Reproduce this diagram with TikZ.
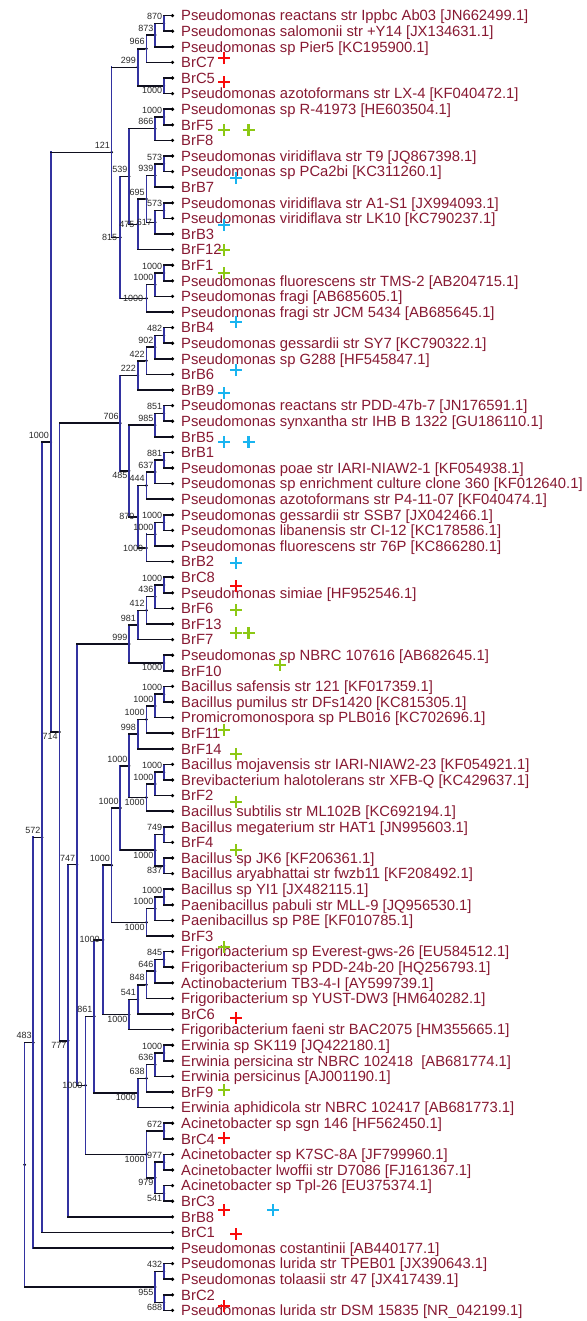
\documentclass[tikz,border=0pt]{standalone}
\usepackage{fontspec}
\setmainfont{Liberation Sans}
\definecolor{taxred}{RGB}{135,25,50}
\definecolor{vcol}{RGB}{50,50,160}
\definecolor{hcol}{RGB}{15,15,30}
\definecolor{bsgrey}{RGB}{40,40,40}
\definecolor{markred}{RGB}{250,10,10}
\definecolor{markgreen}{RGB}{140,200,20}
\definecolor{markcyan}{RGB}{25,180,240}
\tikzset{bplus/.pic={\draw[line width=2.8pt] (-6pt,0pt) -- (6pt,0pt) (0pt,-6pt) -- (0pt,6pt);}}

\begin{document}
\begin{tikzpicture}[x=1pt, y=-15.6pt,
  inode/.style={circle, fill=black, inner sep=0pt, minimum size=3pt},
  taxon/.style={anchor=west, inner xsep=8.5pt, inner ysep=0pt, text height=10.6pt, text depth=0pt, text=taxred, font=\fontsize{14.8}{15}\selectfont},
  bs/.style={inner sep=0pt, text=bsgrey, font=\fontsize{9}{9}\selectfont},
  bsa/.style={bs, anchor=south east, xshift=-1.5pt, yshift=3.5pt},
  bsm/.style={bs, anchor=east, xshift=-3pt},
  bsb/.style={bs, anchor=north east, xshift=-1.5pt, yshift=-1.5pt},
  vl/.style={draw=vcol, line width=1.7pt, line cap=rect},
  hl/.style={draw=hcol, line width=1.5pt, line cap=rect}]
  \useasboundingbox (0,0) rectangle (586,84.679);

  % taxa
  \node[taxon] (s1) at (172.5,1) {Pseudomonas reactans str Ippbc Ab03 [JN662499.1]};
  \node[taxon] (s2) at (172.5,2) {Pseudomonas salomonii str +Y14 [JX134631.1]};
  \node[taxon] (s3) at (172.5,3) {Pseudomonas sp Pier5 [KC195900.1]};
  \node[taxon] (s4) at (172.5,4) {BrC7};
  \node[taxon] (s5) at (172.5,5) {BrC5};
  \node[taxon] (s6) at (172.5,6) {Pseudomonas azotoformans str LX-4 [KF040472.1]};
  \node[taxon] (s7) at (172.5,7) {Pseudomonas sp R-41973 [HE603504.1]};
  \node[taxon] (s8) at (172.5,8) {BrF5};
  \node[taxon] (s9) at (172.5,9) {BrF8};
  \node[taxon] (s10) at (172.5,10) {Pseudomonas viridiflava str T9 [JQ867398.1]};
  \node[taxon] (s11) at (172.5,11) {Pseudomonas sp PCa2bi [KC311260.1]};
  \node[taxon] (s12) at (172.5,12) {BrB7};
  \node[taxon] (s13) at (172.5,13) {Pseudomonas viridiflava str A1-S1 [JX994093.1]};
  \node[taxon] (s14) at (172.5,14) {Pseudomonas viridiflava str LK10 [KC790237.1]};
  \node[taxon] (s15) at (172.5,15) {BrB3};
  \node[taxon] (s16) at (172.5,16) {BrF12};
  \node[taxon] (s17) at (172.5,17) {BrF1};
  \node[taxon] (s18) at (172.5,18) {Pseudomonas fluorescens str TMS-2 [AB204715.1]};
  \node[taxon] (s19) at (172.5,19) {Pseudomonas fragi [AB685605.1]};
  \node[taxon] (s20) at (172.5,20) {Pseudomonas fragi str JCM 5434 [AB685645.1]};
  \node[taxon] (s21) at (172.5,21) {BrB4};
  \node[taxon] (s22) at (172.5,22) {Pseudomonas gessardii str SY7 [KC790322.1]};
  \node[taxon] (s23) at (172.5,23) {Pseudomonas sp G288 [HF545847.1]};
  \node[taxon] (s24) at (172.5,24) {BrB6};
  \node[taxon] (s25) at (172.5,25) {BrB9};
  \node[taxon] (s26) at (172.5,26) {Pseudomonas reactans str PDD-47b-7 [JN176591.1]};
  \node[taxon] (s27) at (172.5,27) {Pseudomonas synxantha str IHB B 1322 [GU186110.1]};
  \node[taxon] (s28) at (172.5,28) {BrB5};
  \node[taxon] (s29) at (172.5,29) {BrB1};
  \node[taxon] (s30) at (172.5,30) {Pseudomonas poae str IARI-NIAW2-1 [KF054938.1]};
  \node[taxon] (s31) at (172.5,31) {Pseudomonas sp enrichment culture clone 360 [KF012640.1]};
  \node[taxon] (s32) at (172.5,32) {Pseudomonas azotoformans str P4-11-07 [KF040474.1]};
  \node[taxon] (s33) at (172.5,33) {Pseudomonas gessardii str SSB7 [JX042466.1]};
  \node[taxon] (s34) at (172.5,34) {Pseudomonas libanensis str CI-12 [KC178586.1]};
  \node[taxon] (s35) at (172.5,35) {Pseudomonas fluorescens str 76P [KC866280.1]};
  \node[taxon] (s36) at (172.5,36) {BrB2};
  \node[taxon] (s37) at (172.5,37) {BrC8};
  \node[taxon] (s38) at (172.5,38) {Pseudomonas simiae [HF952546.1]};
  \node[taxon] (s39) at (172.5,39) {BrF6};
  \node[taxon] (s40) at (172.5,40) {BrF13};
  \node[taxon] (s41) at (172.5,41) {BrF7};
  \node[taxon] (s42) at (172.5,42) {Pseudomonas sp NBRC 107616 [AB682645.1]};
  \node[taxon] (s43) at (172.5,43) {BrF10};
  \node[taxon] (s44) at (172.5,44) {Bacillus safensis str 121 [KF017359.1]};
  \node[taxon] (s45) at (172.5,45) {Bacillus pumilus str DFs1420 [KC815305.1]};
  \node[taxon] (s46) at (172.5,46) {Promicromonospora sp PLB016 [KC702696.1]};
  \node[taxon] (s47) at (172.5,47) {BrF11};
  \node[taxon] (s48) at (172.5,48) {BrF14};
  \node[taxon] (s49) at (172.5,49) {Bacillus mojavensis str IARI-NIAW2-23 [KF054921.1]};
  \node[taxon] (s50) at (172.5,50) {Brevibacterium halotolerans str XFB-Q [KC429637.1]};
  \node[taxon] (s51) at (172.5,51) {BrF2};
  \node[taxon] (s52) at (172.5,52) {Bacillus subtilis str ML102B [KC692194.1]};
  \node[taxon] (s53) at (172.5,53) {Bacillus megaterium str HAT1 [JN995603.1]};
  \node[taxon] (s54) at (172.5,54) {BrF4};
  \node[taxon] (s55) at (172.5,55) {Bacillus sp JK6 [KF206361.1]};
  \node[taxon] (s56) at (172.5,56) {Bacillus aryabhattai str fwzb11 [KF208492.1]};
  \node[taxon] (s57) at (172.5,57) {Bacillus sp YI1 [JX482115.1]};
  \node[taxon] (s58) at (172.5,58) {Paenibacillus pabuli str MLL-9 [JQ956530.1]};
  \node[taxon] (s59) at (172.5,59) {Paenibacillus sp P8E [KF010785.1]};
  \node[taxon] (s60) at (172.5,60) {BrF3};
  \node[taxon] (s61) at (172.5,61) {Frigoribacterium sp Everest-gws-26 [EU584512.1]};
  \node[taxon] (s62) at (172.5,62) {Frigoribacterium sp PDD-24b-20 [HQ256793.1]};
  \node[taxon] (s63) at (172.5,63) {Actinobacterium TB3-4-I [AY599739.1]};
  \node[taxon] (s64) at (172.5,64) {Frigoribacterium sp YUST-DW3 [HM640282.1]};
  \node[taxon] (s65) at (172.5,65) {BrC6};
  \node[taxon] (s66) at (172.5,66) {Frigoribacterium faeni str BAC2075 [HM355665.1]};
  \node[taxon] (s67) at (172.5,67) {Erwinia sp SK119 [JQ422180.1]};
  \node[taxon] (s68) at (172.5,68) {Erwinia persicina str NBRC 102418~ [AB681774.1]};
  \node[taxon] (s69) at (172.5,69) {Erwinia persicinus [AJ001190.1]};
  \node[taxon] (s70) at (172.5,70) {BrF9};
  \node[taxon] (s71) at (172.5,71) {Erwinia aphidicola str NBRC 102417 [AB681773.1]};
  \node[taxon] (s72) at (172.5,72) {Acinetobacter sp sgn 146 [HF562450.1]};
  \node[taxon] (s73) at (172.5,73) {BrC4};
  \node[taxon] (s74) at (172.5,74) {Acinetobacter sp K7SC-8A [JF799960.1]};
  \node[taxon] (s75) at (172.5,75) {Acinetobacter lwoffii str D7086 [FJ161367.1]};
  \node[taxon] (s76) at (172.5,76) {Acinetobacter sp Tpl-26 [EU375374.1]};
  \node[taxon] (s77) at (172.5,77) {BrC3};
  \node[taxon] (s78) at (172.5,78) {BrB8};
  \node[taxon] (s79) at (172.5,79) {BrC1};
  \node[taxon] (s80) at (172.5,80) {Pseudomonas costantinii [AB440177.1]};
  \node[taxon] (s81) at (172.5,81) {Pseudomonas lurida str TPEB01 [JX390643.1]};
  \node[taxon] (s82) at (172.5,82) {Pseudomonas tolaasii str 47 [JX417439.1]};
  \node[taxon] (s83) at (172.5,83) {BrC2};
  \node[taxon] (s84) at (172.5,84) {Pseudomonas lurida str DSM 15835 [NR\_042199.1]};

  % inner nodes
  \node[inode] (n1) at (163.8,1.5) {};
  \node[inode] (n2) at (155.1,2.25) {};
  \node[inode] (n3) at (146.4,3.125) {};
  \node[inode] (n4) at (163.8,5.5) {};
  \node[inode] (n5) at (137.7,4.3125) {};
  \node[inode] (n6) at (163.8,7.5) {};
  \node[inode] (n7) at (155.1,8.25) {};
  \node[inode] (n8) at (163.8,10.5) {};
  \node[inode] (n9) at (155.1,11.25) {};
  \node[inode] (n10) at (163.8,13.5) {};
  \node[inode] (u1) at (155.1,14.25) {};
  \node[inode] (v1) at (146.4,12.75) {};
  \node[inode] (w1) at (137.7,14.375) {};
  \node[inode] (y1) at (129.0,11.3125) {};
  \node[inode] (z1) at (163.8,17.5) {};
  \node[inode] (z2) at (155.1,18.25) {};
  \node[inode] (z3) at (146.4,19.125) {};
  \node[inode] (x1) at (120.3,15.21875) {};
  \node[inode] (a7) at (111.6,9.765625) {};
  \node[inode] (c1a) at (163.8,21.5) {};
  \node[inode] (c1b) at (155.1,22.25) {};
  \node[inode] (c1c) at (146.4,23.125) {};
  \node[inode] (c1) at (137.7,24.0625) {};
  \node[inode] (c2a) at (163.8,26.5) {};
  \node[inode] (c2) at (155.1,27.25) {};
  \node[inode] (c4a) at (163.8,29.5) {};
  \node[inode] (c4b) at (155.1,30.25) {};
  \node[inode] (c4c) at (146.4,31.125) {};
  \node[inode] (c5a) at (163.8,33.5) {};
  \node[inode] (c5b) at (155.1,34.25) {};
  \node[inode] (c5) at (146.4,35.125) {};
  \node[inode] (c4) at (137.7,33.125) {};
  \node[inode] (c3) at (129.0,30.1875) {};
  \node[inode] (c0) at (120.3,27.125) {};
  \node[inode] (p1) at (163.8,37.5) {};
  \node[inode] (p2) at (155.1,38.25) {};
  \node[inode] (p3) at (146.4,39.125) {};
  \node[inode] (p4) at (137.7,40.0625) {};
  \node[inode] (p5) at (163.8,42.5) {};
  \node[inode] (p0) at (129.0,41.28125) {};
  \node[inode] (b1a) at (163.8,44.5) {};
  \node[inode] (b1b) at (155.1,45.25) {};
  \node[inode] (b1c) at (146.4,46.125) {};
  \node[inode] (b1) at (137.7,47.0625) {};
  \node[inode] (b2a) at (163.8,49.5) {};
  \node[inode] (b2b) at (155.1,50.25) {};
  \node[inode] (b2) at (146.4,51.125) {};
  \node[inode] (b12) at (129.0,49.09375) {};
  \node[inode] (b3a) at (163.8,53.5) {};
  \node[inode] (b3b) at (163.8,55.5) {};
  \node[inode] (b3) at (155.1,54.5) {};
  \node[inode] (b123) at (120.3,51.796875) {};
  \node[inode] (b4a) at (163.8,57.5) {};
  \node[inode] (b4b) at (155.1,58.25) {};
  \node[inode] (b4) at (146.4,59.125) {};
  \node[inode] (b0) at (111.6,55.4609) {};
  \node[inode] (f1) at (163.8,61.5) {};
  \node[inode] (f2) at (155.1,62.25) {};
  \node[inode] (f3) at (146.4,63.125) {};
  \node[inode] (f4) at (137.7,64.0625) {};
  \node[inode] (f0) at (129.0,65.03125) {};
  \node[inode] (bf) at (102.9,60.2461) {};
  \node[inode] (e1) at (163.8,67.5) {};
  \node[inode] (e2) at (155.1,68.25) {};
  \node[inode] (e3) at (146.4,69.125) {};
  \node[inode] (e0) at (137.7,70.0625) {};
  \node[inode] (bfe) at (94.2,65.1543) {};
  \node[inode] (k1) at (163.8,72.5) {};
  \node[inode] (k2) at (163.8,74.5) {};
  \node[inode] (k3) at (163.8,76.5) {};
  \node[inode] (k23) at (155.1,75.5) {};
  \node[inode] (k0) at (146.4,74) {};
  \node[inode] (h10) at (85.5,69.5771) {};
  \node[inode] (h11) at (76.8,55.4292) {};
  \node[inode] (h12) at (68.1,66.7146) {};
  \node[inode] (h13) at (59.4,46.9198) {};
  \node[inode] (h14) at (50.7,28.3427) {};
  \node[inode] (h15) at (42.0,53.6714) {};
  \node[inode] (h16) at (33.3,66.8357) {};
  \node[inode] (l1) at (163.8,81.5) {};
  \node[inode] (l2) at (163.8,83.5) {};
  \node[inode] (l0) at (155.1,82.5) {};
  \node[inode] (root) at (24.6,74.6678) {};

  % branches
  \foreach \p/\c in {root/h16, root/l0, h16/h15, h16/s80, h15/h14, h15/s79,
      h14/a7, h14/h13, h13/c0, h13/h12, h12/h11, h12/s78, h11/p0, h11/h10,
      h10/bfe, h10/k0, bfe/bf, bfe/e0, bf/b0, bf/f0, b0/b123, b0/b4,
      b123/b12, b123/b3, b12/b1, b12/b2,
      b1/b1c, b1/s48, b1c/b1b, b1c/s47, b1b/b1a, b1b/s46, b1a/s44, b1a/s45,
      b2/b2b, b2/s52, b2b/b2a, b2b/s51, b2a/s49, b2a/s50,
      b3/b3a, b3/b3b, b3a/s53, b3a/s54, b3b/s55, b3b/s56,
      b4/b4b, b4/s60, b4b/b4a, b4b/s59, b4a/s57, b4a/s58,
      f0/f4, f0/s66, f4/f3, f4/s65, f3/f2, f3/s64, f2/f1, f2/s63, f1/s61, f1/s62,
      e0/e3, e0/s71, e3/e2, e3/s70, e2/e1, e2/s69, e1/s67, e1/s68,
      k0/k1, k0/k23, k1/s72, k1/s73, k23/k2, k23/k3, k2/s74, k2/s75, k3/s76, k3/s77,
      p0/p4, p0/p5, p4/p3, p4/s41, p3/p2, p3/s40, p2/p1, p2/s39, p1/s37, p1/s38, p5/s42, p5/s43,
      c0/c1, c0/c3, c1/c1c, c1/s25, c1c/c1b, c1c/s24, c1b/c1a, c1b/s23, c1a/s21, c1a/s22,
      c3/c2, c3/c4, c2/c2a, c2/s28, c2a/s26, c2a/s27,
      c4/c4c, c4/c5, c4c/c4b, c4c/s32, c4b/c4a, c4b/s31, c4a/s29, c4a/s30,
      c5/c5b, c5/s36, c5b/c5a, c5b/s35, c5a/s33, c5a/s34,
      a7/n5, a7/x1, n5/n3, n5/n4, n3/n2, n3/s4, n2/n1, n2/s3, n1/s1, n1/s2, n4/s5, n4/s6,
      x1/y1, x1/z3, y1/n7, y1/w1, n7/n6, n7/s9, n6/s7, n6/s8,
      w1/v1, w1/s16, v1/n9, v1/u1, n9/n8, n9/s12, n8/s10, n8/s11, u1/n10, u1/s15, n10/s13, n10/s14,
      z3/z2, z3/s20, z2/z1, z2/s19, z1/s17, z1/s18,
      l0/l1, l0/l2, l1/s81, l1/s82, l2/s83, l2/s84} {
    \draw[vl] (\p.center) -- (\p |- \c);
    \draw[hl] (\p |- \c) -- (\c);
  }
  \foreach \i in {1,...,84} \fill (s\i.west) circle (1.8pt);

  % bootstrap values
  \foreach \n/\v in {n1/870, n2/873, n3/966, n5/299, n6/1000, n7/866, a7/121, n8/573,
      n9/939, v1/695, y1/539, n10/573, z1/1000, z2/1000, c1a/482, c1b/902, c1c/422,
      c1/222, c2a/851, c2/985, c0/706, c4a/881, c4b/637, c4c/444, c5a/1000, c5b/1000,
      p1/1000, p2/436, p3/412, p4/981, p0/999, b1a/1000, b1b/1000, b1c/1000, b1/998,
      b2a/1000, b2b/1000, b12/1000, b3a/749, b123/1000, b4a/1000, b4b/1000, b0/1000,
      f1/845, f2/646, f3/848, f4/541, e1/1000, e2/636, e3/638, bfe/861, k1/672, k2/977,
      h11/747, h14/1000, h15/572, h16/483, l1/432}
    \node[bsa] (q\n) at (\n) {\v};
  \foreach \n/\v in {u1/617, w1/475, z3/1000, x1/815, c5/1000, c4/870, bf/1000, h10/1000}
    \node[bsm] (q\n) at (\n) {\v};
  \foreach \n/\v in {n4/1000, c3/485, p5/1000, b2/1000, b3b/837, b3/1000, b4/1000,
      f0/1000, e0/1000, k3/541, k23/979, k0/1000, h12/777, h13/714, l2/688, l0/955}
    \node[bsb] (q\n) at (\n) {\v};

  % isolate marks
  \foreach \x/\y/\c in {224/3.72/markred, 224/5.26/markred, 224/8.33/markgreen,
      248.5/8.33/markgreen, 236/11.41/markcyan, 224/14.42/markcyan, 224/16.03/markgreen,
      224/17.5/markgreen, 236/20.64/markcyan, 236/23.72/markcyan, 224/25.19/markcyan,
      224/28.33/markcyan, 248.5/28.33/markcyan, 236/36.09/markcyan, 236/37.56/markred,
      236/39.10/markgreen, 236/40.58/markgreen, 248.5/40.58/markgreen, 280/42.63/markgreen,
      224/46.79/markgreen, 236/48.33/markgreen, 236/51.41/markgreen, 236/54.49/markgreen,
      224/60.71/markgreen, 236/65.26/markred, 224/69.87/markgreen, 224/72.95/markred,
      224/77.56/markred, 273/77.56/markcyan, 236/79.10/markred, 224/83.72/markred}
    \pic[color=\c] at (\x,\y) {bplus};
\end{tikzpicture}
\end{document}
